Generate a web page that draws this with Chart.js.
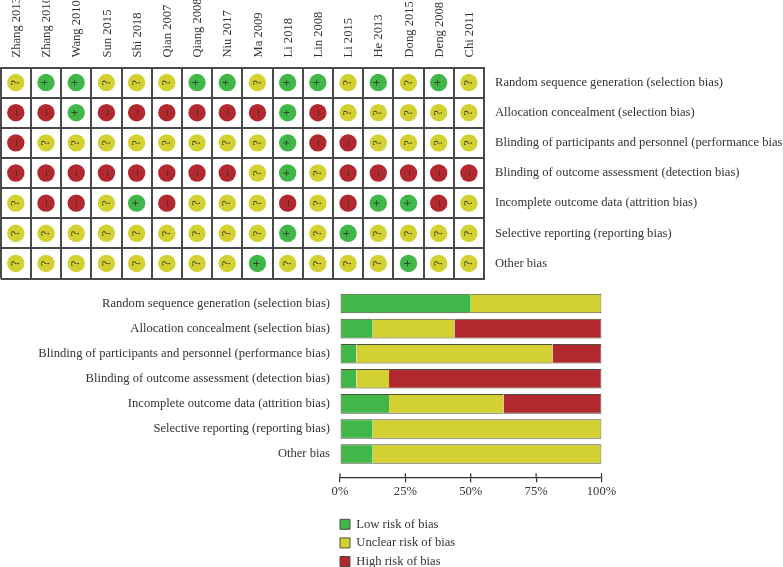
<!DOCTYPE html>
<html>
<head>
<meta charset="utf-8">
<script src="https://cdn.jsdelivr.net/npm/chart.js@4"></script>
<style>
    html, body { margin: 0; padding: 0; background: #fff; overflow: hidden; }
    .box { position: absolute; left: 0; width: 783px; }
    #matrixBox { top: 0; height: 285px; }
    #barBox { top: 285px; height: 282px; }
</style>
</head>
<body>
<div class="box" id="matrixBox"><canvas id="matrixChart"></canvas></div>
<div class="box" id="barBox"><canvas id="barChart"></canvas></div>
<script>
const studies = ["Zhang 2013", "Zhang 2010", "Wang 2010", "Sun 2015", "Shi 2018", "Qian 2007", "Qiang 2008", "Niu 2017",
    "Ma 2009", "Li 2018", "Lin 2008", "Li 2015", "He 2013", "Dong 2015", "Deng 2008", "Chi 2011"];
const domains = [
    "Random sequence generation (selection bias)",
    "Allocation concealment (selection bias)",
    "Blinding of participants and personnel (performance bias)",
    "Blinding of outcome assessment (detection bias)",
    "Incomplete outcome data (attrition bias)",
    "Selective reporting (reporting bias)",
    "Other bias",
];
// one row per domain, one mark per study
const randomSequence = ["?", "+", "+", "?", "?", "?", "+", "+", "?", "+", "+", "?", "+", "?", "+", "?"];
const allocation = ["-", "-", "+", "-", "-", "-", "-", "-", "-", "+", "-", "?", "?", "?", "?", "?"];
const blindingParticipants = ["-", "?", "?", "?", "?", "?", "?", "?", "?", "+", "-", "-", "?", "?", "?", "?"];
const blindingOutcome = ["-", "-", "-", "-", "-", "-", "-", "-", "?", "+", "?", "-", "-", "-", "-", "-"];
const incompleteData = ["?", "-", "-", "?", "+", "-", "?", "?", "?", "-", "?", "-", "+", "+", "-", "?"];
const selectiveReporting = ["?", "?", "?", "?", "?", "?", "?", "?", "?", "+", "?", "+", "?", "?", "?", "?"];
const otherBias = ["?", "?", "?", "?", "?", "?", "?", "?", "+", "?", "?", "?", "?", "+", "?", "?"];
const matrixRows = [randomSequence, allocation, blindingParticipants, blindingOutcome, incompleteData, selectiveReporting, otherBias];

// percent of studies per domain
const lowRisk = [50, 12.5, 6.25, 6.25, 18.75, 12.5, 12.5];
const unclearRisk = [50, 31.25, 75, 12.5, 43.75, 87.5, 87.5];
const highRisk = [0, 56.25, 18.75, 81.25, 37.5, 0, 0];
const percentTicks = [0, 25, 50, 75, 100];

const GREEN = "#41b649";
const YELLOW = "#d3d131";
const RED = "#b2282f";
const EDGE = "#4f4f3f";
const TEXT = "#333333";
const FONT = "'Liberation Serif'";
const FONT_SIZE = 12.6;

const judgements = [
    { mark: "+", color: GREEN },
    { mark: "?", color: YELLOW },
    { mark: "-", color: RED },
];

function pointsFor(mark) {
    const points = [];
    matrixRows.forEach((row, r) => {
        row.forEach((m, s) => {
            if (m === mark) points.push({ x: studies[s], y: domains[r] });
        });
    });
    return points;
}

// scales reserve room for their outer labels, which would push the plot off the reference grid
function noMargins(s) {
    s.paddingLeft = s.paddingRight = s.paddingTop = s.paddingBottom = 0;
}

// the symbols sit turned a quarter, as in the source figure
const markGlyphs = {
    id: "markGlyphs",
    afterDatasetsDraw(chart) {
        const ctx = chart.ctx;
        chart.data.datasets.forEach((ds, i) => {
            chart.getDatasetMeta(i).data.forEach((pt) => {
                ctx.save();
                ctx.translate(pt.x, pt.y);
                ctx.rotate(-Math.PI / 2);
                ctx.fillStyle = "#2a2a20";
                ctx.font = "12px " + FONT;
                ctx.textAlign = "center";
                ctx.textBaseline = "middle";
                ctx.fillText(ds.mark === "-" ? "\u2013" : ds.mark, 0, 0);
                ctx.restore();
            });
        });
    },
};

new Chart(document.getElementById("matrixChart"), {
    type: "scatter",
    data: {
        datasets: judgements.map((j) => ({
            label: j.mark,
            mark: j.mark,
            data: pointsFor(j.mark),
            backgroundColor: j.color,
            borderWidth: 0,
            pointRadius: 8.7,
            pointHoverRadius: 8.7,
        })),
    },
    options: {
        responsive: true,
        maintainAspectRatio: false,
        animation: false,
        layout: { autoPadding: false, padding: { left: 0.7, bottom: 6.5 } },
        plugins: { legend: { display: false }, tooltip: { enabled: false } },
        scales: {
            x: {
                type: "category",
                position: "top",
                labels: studies,
                offset: true,
                afterFit: (s) => { s.height = 67.5; noMargins(s); },
                grid: { color: "#4a4a4a", lineWidth: 2, drawTicks: false, offset: true },
                border: { color: "#4a4a4a", width: 2 },
                ticks: {
                    minRotation: 90, maxRotation: 90, autoSkip: false, padding: 10, labelOffset: 16,
                    color: TEXT, font: { family: FONT, size: FONT_SIZE },
                },
            },
            y: {
                type: "category",
                position: "right",
                labels: domains,
                offset: true,
                afterFit: (s) => { s.width = 299; noMargins(s); },
                grid: { color: "#4a4a4a", lineWidth: 2, drawTicks: false, offset: true },
                border: { color: "#4a4a4a", width: 2 },
                ticks: { padding: 11, autoSkip: false, color: TEXT, font: { family: FONT, size: FONT_SIZE } },
            },
        },
    },
    plugins: [markGlyphs],
});

const axisRow = 6.92;

// the axis ticks cross the axis line, so draw the upper half too
const crossTicks = {
    id: "crossTicks",
    afterDraw(chart) {
        const x = chart.scales.x;
        const y = chart.scales.y.getPixelForValue(axisRow);
        const ctx = chart.ctx;
        ctx.save();
        ctx.strokeStyle = "#333333";
        ctx.lineWidth = 1.2;
        x.ticks.forEach((t, i) => {
            const px = x.getPixelForTick(i);
            ctx.beginPath();
            ctx.moveTo(px, y - 4);
            ctx.lineTo(px, y);
            ctx.stroke();
        });
        ctx.restore();
    },
};

// legend hangs below the axis, starting at the left of the plot
const legendSpot = {
    id: "legendSpot",
    afterLayout(chart) {
        const lg = chart.legend;
        lg.left = chart.chartArea.left - 6;
        lg.right = lg.left + 140;
        lg.top = 227;
        lg.bottom = 310;
    },
};

new Chart(document.getElementById("barChart"), {
    type: "bar",
    data: {
        labels: domains,
        datasets: [
            {
                label: "Low risk of bias",
                data: lowRisk,
                backgroundColor: GREEN,
                borderColor: EDGE,
                borderWidth: { top: 1, bottom: 1, left: 1, right: 0 },
            },
            {
                label: "Unclear risk of bias",
                data: unclearRisk,
                backgroundColor: YELLOW,
                borderColor: EDGE,
                borderWidth: (c) => ({ top: 1, bottom: 1, left: 0, right: highRisk[c.dataIndex] === 0 ? 1 : 0 }),
            },
            {
                label: "High risk of bias",
                data: highRisk,
                backgroundColor: RED,
                borderColor: EDGE,
                borderWidth: (c) => (highRisk[c.dataIndex] === 0 ? 0 : { top: 1, bottom: 1, left: 0, right: 1 }),
            },
        ],
    },
    options: {
        indexAxis: "y",
        responsive: true,
        maintainAspectRatio: false,
        animation: false,
        layout: { autoPadding: false, padding: { top: 6, right: 61.5, bottom: 100.4 } },
        datasets: { bar: { borderSkipped: false, categoryPercentage: 1, barPercentage: 0.78 } },
        plugins: {
            tooltip: { enabled: false },
            legend: {
                position: "right",
                maxWidth: 120,
                align: "start",
                labels: {
                    boxWidth: 10,
                    boxHeight: 10,
                    padding: 6,
                    color: TEXT,
                    font: { family: FONT, size: FONT_SIZE },
                    generateLabels: (chart) => chart.data.datasets.map((ds, i) => ({
                        text: ds.label,
                        fillStyle: ds.backgroundColor,
                        strokeStyle: EDGE,
                        lineWidth: 1,
                        fontColor: TEXT,
                        datasetIndex: i,
                    })),
                },
            },
        },
        scales: {
            x: {
                stacked: true,
                min: 0,
                max: 100,
                position: { y: axisRow },
                afterFit: noMargins,
                afterBuildTicks: (s) => { s.ticks = percentTicks.map((v) => ({ value: v })); },
                grid: { drawOnChartArea: false, color: "#333333", lineWidth: 1.2, tickLength: 4 },
                border: { color: "#333333", width: 1.2 },
                ticks: {
                    callback: (v) => v + "%",
                    padding: 3,
                    maxRotation: 0,
                    color: TEXT,
                    font: { family: FONT, size: FONT_SIZE },
                },
            },
            y: {
                stacked: true,
                afterFit: (s) => { s.width = 340; noMargins(s); },
                grid: { display: false },
                border: { display: false },
                ticks: { padding: 2, autoSkip: false, color: TEXT, font: { family: FONT, size: FONT_SIZE } },
            },
        },
    },
    plugins: [crossTicks, legendSpot],
});
</script>
</body>
</html>
